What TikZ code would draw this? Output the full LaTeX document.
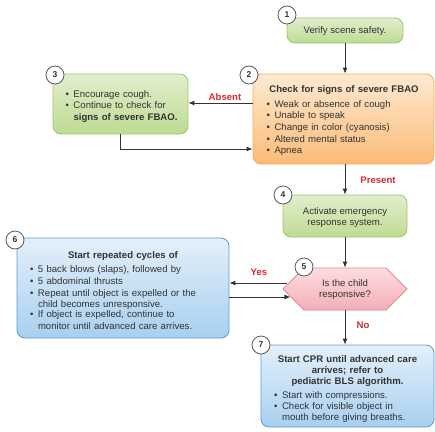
\documentclass[tikz,border=0pt]{standalone}
\usepackage{fontspec}
\setmainfont{Liberation Sans}
\usetikzlibrary{arrows.meta,shapes.symbols,calc}

\definecolor{txt}{HTML}{333333}
\definecolor{lineC}{HTML}{333333}
\definecolor{redlab}{HTML}{D42A32}
\definecolor{grnTop}{HTML}{E2EECD}
\definecolor{grnBot}{HTML}{BEDB92}
\definecolor{grnEdge}{HTML}{9CC56E}
\definecolor{orgTop}{HTML}{FEEAD1}
\definecolor{orgBot}{HTML}{FBBB78}
\definecolor{orgEdge}{HTML}{F5AA5E}
\definecolor{bluTop}{HTML}{E3F0FA}
\definecolor{bluBot}{HTML}{A8CFEF}
\definecolor{bluEdge}{HTML}{5A9CD4}
\definecolor{pnkTop}{HTML}{FCDDE0}
\definecolor{pnkBot}{HTML}{F4AEB6}
\definecolor{pnkEdge}{HTML}{E08A93}

% bullet item: the bullet, then a top-aligned block so wrapped lines hang
\newcommand\itm[1]{\par\noindent\makebox[8pt][l]{\textbullet}%
  \parbox[t]{\dimexpr\hsize-8pt\relax}{\raggedright #1}}
% bold heading of a box (lines separated by \par), with a little room below
\newcommand\boxhead[1]{{\centering\bfseries #1\par}\vspace{2.5pt}}

\tikzset{
  box/.style={rounded corners=8pt, line width=0.8pt, inner sep=0pt},
  greenbox/.style={box, draw=grnEdge, top color=grnTop, bottom color=grnBot},
  orangebox/.style={box, draw=orgEdge, top color=orgTop, bottom color=orgBot},
  bluebox/.style={box, draw=bluEdge, top color=bluTop, bottom color=bluBot},
  boxtext/.style={inner sep=0pt, font=\fontsize{9.6}{11.7}\selectfont, text=txt},
  decision/.style={shape=signal, signal to=west and east, signal pointer angle=90,
    line width=0.8pt, draw=pnkEdge, top color=pnkTop, bottom color=pnkBot, inner sep=0pt},
  badge/.style={circle, draw=black!65, line width=0.8pt, fill=white, minimum size=18pt,
    inner sep=0pt, font=\fontsize{8.5}{8.5}\selectfont\bfseries, text=txt},
  conn/.style={draw=lineC, line width=0.9pt, -{Latex[length=6pt,width=5pt]}},
  lab/.style={font=\fontsize{9.6}{9.6}\selectfont\bfseries, text=redlab},
}

\begin{document}
\begin{tikzpicture}[x=1pt,y=-1pt]
\useasboundingbox (0,0) rectangle (435,431);

% step shapes
\node[greenbox, minimum width=116pt, minimum height=25pt] (one) at (345,30.5) {};
\node[orangebox, minimum width=181pt, minimum height=90pt] (two) at (343.5,119) {};
\node[greenbox, minimum width=135pt, minimum height=60pt] (three) at (120.5,104) {};
\node[greenbox, minimum width=124pt, minimum height=42pt] (four) at (345,216) {};
\node[decision, minimum width=124pt, minimum height=42pt] (hex) at (345,289) {};
\node[bluebox, minimum width=212pt, minimum height=100pt] (six) at (123,288) {};
\node[bluebox, minimum width=173pt, minimum height=82pt] (seven) at (347.5,386) {};

% step texts
\node[boxtext, align=center] (oneText) at ([yshift=-0.5pt]one.center) {Verify scene safety.};

\node[boxtext, text width=155pt, align=left] (twoText) at ([xshift=0.5pt,yshift=-2pt]two.center)
  {\boxhead{Check for signs of severe FBAO}
  \itm{Weak or absence of cough}
  \itm{Unable to speak}
  \itm{Change in color (cyanosis)}
  \itm{Altered mental status}
  \itm{Apnea}};

\node[boxtext, text width=116pt, align=left] (threeText) at ([xshift=3pt]three.center)
  {\itm{Encourage cough.}
  \itm{Continue to check for\newline\textbf{signs of severe FBAO.}}};

\node[boxtext, align=center] (fourText) at ([yshift=-1.5pt]four.center)
  {Activate emergency\\response system.};

\node[boxtext, align=center] (hexText) at ([yshift=-0.5pt]hex.center)
  {Is the child\\responsive?};

\node[boxtext, text width=186pt, align=left] (sixText) at ([yshift=-2.5pt]six.center)
  {\boxhead{Start repeated cycles of}
  \itm{5 back blows (slaps), followed by}
  \itm{5 abdominal thrusts}
  \itm{Repeat until object is expelled or the\newline child becomes unresponsive.}
  \itm{If object is expelled, continue to\newline monitor until advanced care arrives.}};

\node[boxtext, font=\fontsize{9.6}{11}\selectfont, text width=147pt, align=left]
  (sevenText) at ([yshift=-3pt]seven.center)
  {\boxhead{Start CPR until advanced care\par arrives; refer to\par pediatric BLS algorithm.}
  \itm{Start with compressions.}
  \itm{Check for visible object in\newline mouth before giving breaths.}};

% connector end points
\coordinate (absFrom) at ([yshift=16pt]two.west);
\coordinate (retIn) at ([yshift=-30pt]two.west);
\coordinate (yesFrom) at ([xshift=5pt,yshift=6pt]hex.west);
\coordinate (backTo) at ([xshift=8pt,yshift=-8pt]hex.west);

% connectors
\draw[conn] (one.south) -- (one.south |- two.north);
\draw[conn] (absFrom) -- (absFrom -| three.east);
\draw[conn] (three.south) |- (retIn);
\draw[conn] (four.north |- two.south) -- (four.north);
\draw[conn] (four.south) -- (hex.north);
\draw[conn] (yesFrom) -- (yesFrom -| six.east);
\draw[conn] (backTo -| six.east) -- (backTo);
\draw[conn] (hex.south) -- (hex.south |- seven.north);

% branch labels
\node[lab] (labAbsent) at (225,97) {Absent};
\node[lab] (labPresent) at (378,180) {Present};
\node[lab] (labYes) at (259,272) {Yes};
\node[lab] (labNo) at (363,325) {No};

% step numbers
\node[badge] (n1) at (287,15) {1};
\node[badge] (n2) at (249,75) {2};
\node[badge] (n3) at (55,75) {3};
\node[badge] (n4) at (283,195) {4};
\node[badge] (n5) at (304,267) {5};
\node[badge] (n6) at (15,240) {6};
\node[badge] (n7) at (261,345) {7};
\end{tikzpicture}
\end{document}
